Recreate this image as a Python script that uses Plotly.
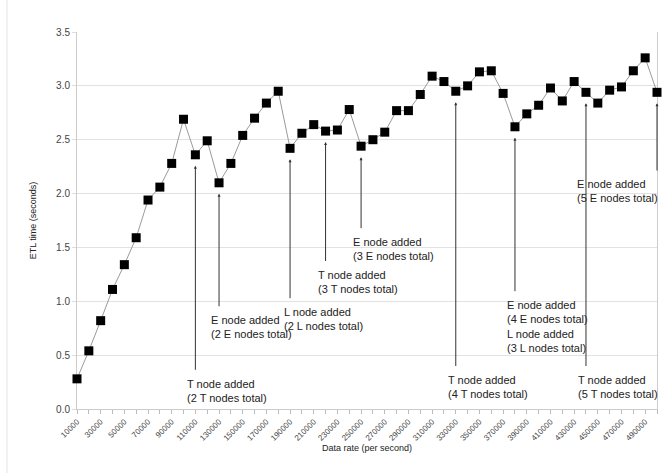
import plotly.graph_objects as go

# Data rate (records per second) and measured ETL time (seconds)
data_rate = list(range(10000, 500001, 10000))
etl_time = [
    0.28, 0.54, 0.82, 1.11, 1.34, 1.59, 1.94, 2.06, 2.28, 2.69,
    2.36, 2.49, 2.10, 2.28, 2.54, 2.70, 2.84, 2.95, 2.42, 2.56,
    2.64, 2.58, 2.59, 2.78, 2.44, 2.50, 2.57, 2.77, 2.77, 2.92,
    3.09, 3.04, 2.95, 3.00, 3.13, 3.14, 2.93, 2.62, 2.74, 2.82,
    2.98, 2.86, 3.04, 2.94, 2.84, 2.96, 2.99, 3.14, 3.26, 2.94,
]

# Scaling events: data rate where a node was added, note text, text top (seconds)
event_rate = [110000, 130000, 190000, 220000, 250000, 330000, 380000, 440000, 500000]
event_text = [
    "T node added<br>(2 T nodes total)",
    "E node added<br>(2 E nodes total)",
    "L node added<br>(2 L nodes total)",
    "T node added<br>(3 T nodes total)",
    "E node added<br>(3 E nodes total)",
    "T node added<br>(4 T nodes total)",
    "E node added<br>(4 E nodes total)<br>L node added<br>(3 L nodes total)",
    "T node added<br>(5 T nodes total)",
    "E node added<br>(5 E nodes total)",
]
event_text_y = [0.31, 0.90, 0.975, 1.32, 1.625, 0.345, 1.04, 0.345, 2.16]
event_text_shift = [-10, -10, -8, -10, -10, -10, -10, -10, -82]

tick_vals = data_rate
tick_text = [str(v) if (v // 10000) % 2 == 1 else "" for v in data_rate]

note_font = dict(family="Liberation Sans, Arial, sans-serif", size=11, color="#222222")

fig = go.Figure()
fig.add_trace(go.Scatter(
    x=data_rate, y=etl_time, mode="lines+markers",
    line=dict(color="#9a9a9a", width=1),
    marker=dict(symbol="square", size=9, color="black"),
    showlegend=False, hoverinfo="x+y", cliponaxis=False,
))

annotations = []
for rate, txt, ty, dx in zip(event_rate, event_text, event_text_y, event_text_shift):
    value = etl_time[data_rate.index(rate)]
    # vertical arrow from the note up to the point
    annotations.append(dict(
        x=rate, y=value, xref="x", yref="y",
        ax=rate, ay=ty + 0.04, axref="x", ayref="y",
        text="", showarrow=True, arrowhead=2, arrowsize=0.6,
        arrowwidth=1, arrowcolor="#333333", standoff=11,
    ))
    annotations.append(dict(
        x=rate, y=ty, xref="x", yref="y",
        text=txt, showarrow=False, xanchor="left", yanchor="top",
        xshift=dx, align="left", font=note_font,
    ))

# x-axis title
annotations.append(dict(
    x=0.5, y=-0.104, xref="paper", yref="paper",
    text="Data rate (per second)", showarrow=False,
    xanchor="center", yanchor="middle",
    font=dict(family="Liberation Sans, Arial, sans-serif", size=9, color="#222222"),
))

fig.update_layout(
    width=672, height=474,
    margin=dict(l=77, r=15, t=32, b=65),
    paper_bgcolor="white", plot_bgcolor="white",
    font=dict(family="Liberation Sans, Arial, sans-serif", color="#444444"),
    annotations=annotations,
    shapes=[dict(
        type="line", xref="paper", yref="paper",
        x0=-0.1207, x1=-0.1207, y0=-0.17, y1=1.085,
        line=dict(color="#e4e4e4", width=1),
    )],
    xaxis=dict(
        range=[10000, 500000], tickvals=tick_vals, ticktext=tick_text,
        tickangle=-45, tickfont=dict(size=8, color="#444444"),
        ticks="outside", ticklen=4, tickcolor="#bbbbbb",
        showgrid=False, zeroline=False, layer="below traces",
        showline=True, linecolor="#cccccc", linewidth=1,
    ),
    yaxis=dict(
        range=[0, 3.5], tickvals=[0, 0.5, 1.0, 1.5, 2.0, 2.5, 3.0, 3.5],
        ticktext=["0.0", "0.5", "1.0", "1.5", "2.0", "2.5", "3.0", "3.5"],
        tickfont=dict(size=10, color="#444444"),
        ticks="outside", ticklen=4, tickcolor="#dddddd",
        showgrid=True, gridcolor="#e2e2e2", gridwidth=1, zeroline=False,
        layer="below traces",
        showline=True, linecolor="#cccccc", linewidth=1, mirror=True,
        title=dict(text="ETL time (seconds)", font=dict(size=9, color="#222222"), standoff=17),
    ),
)

fig.write_html("out.html")
